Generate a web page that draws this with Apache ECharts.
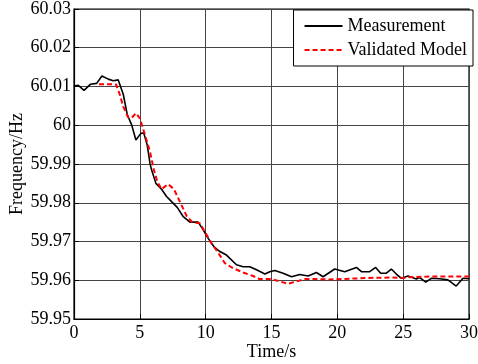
<!DOCTYPE html>
<html><head><meta charset="utf-8">
<script src="https://cdn.jsdelivr.net/npm/echarts@6/dist/echarts.min.js"></script>
<style>html,body{margin:0;padding:0;background:#fff}#c{width:478px;height:364px}</style>
</head><body><div id="c"></div>
<script>
var measT = [0,0.33,0.76,1.26,1.72,2.12,2.6,2.98,3.36,3.74,4.05,4.38,4.7,5.08,5.3,5.56,5.77,5.89,6.22,6.65,7.03,7.41,7.84,8.3,8.8,9.43,9.81,10.19,10.62,11.08,11.58,12.34,12.85,13.35,13.86,14.5,14.87,15.25,15.88,16.52,17.15,17.78,18.41,18.92,19.8,20.56,21.45,21.83,22.46,22.91,23.29,23.7,24.1,24.48,24.86,25.37,26.0,26.26,26.71,27.14,27.77,28.4,29.03,29.54,30];
var measV = [60.0101,60.0103,60.0090,60.0106,60.0108,60.0127,60.0119,60.0115,60.0117,60.0080,60.0027,60.0001,59.9962,59.9979,59.9980,59.9949,59.9902,59.9885,59.9850,59.9835,59.9816,59.9803,59.9788,59.9764,59.9750,59.9750,59.9730,59.9708,59.9687,59.9674,59.9665,59.9640,59.9635,59.9635,59.9627,59.9616,59.9622,59.9625,59.9618,59.9609,59.9615,59.9611,59.9620,59.9609,59.9629,59.9622,59.9633,59.9622,59.9622,59.9633,59.9618,59.9618,59.9629,59.9616,59.9605,59.9611,59.9603,59.9607,59.9595,59.9605,59.9604,59.9601,59.9585,59.9605,59.9604];
var modelT = [1.9,3.0,3.2,3.49,3.74,4.12,4.4,4.7,5.0,5.39,5.77,6.07,6.32,6.65,7.15,7.59,8.04,8.55,9.0,9.56,9.94,10.45,10.95,11.46,12.09,12.85,13.6,14.1,15.0,15.63,16.26,16.9,17.53,18.4,19.4,20.9,22.46,24.0,25.0,25.5,27.5,30];
var modelV = [60.0106,60.0106,60.0105,60.0078,60.0048,60.0020,60.0020,60.0031,60.0018,59.9975,59.9932,59.9885,59.9855,59.9835,59.9848,59.9835,59.9803,59.9766,59.9749,59.9747,59.9725,59.9695,59.9671,59.9644,59.9631,59.9620,59.9611,59.9603,59.9603,59.9597,59.9591,59.9597,59.9603,59.9603,59.9602,59.9604,59.9606,59.9607,59.9606,59.9608,59.9610,59.9610];
var seriesNames = ['Measurement','Validated Model'];
var xTitle = 'Time/s', yTitle = 'Frequency/Hz';

function zip(a,b){return a.map(function(t,i){return [t,b[i]];});}
var font = 'Liberation Serif';
var chart = echarts.init(document.getElementById('c'));
chart.setOption({
  animation:false,
  backgroundColor:'#fff',
  grid:{left:74,right:9,top:9,bottom:45,outerBoundsMode:'none',containLabel:false,show:true,borderColor:'#000',borderWidth:1.2,backgroundColor:'transparent'},
  legend:{
    right:5,top:10,orient:'vertical',
    backgroundColor:'#fff',borderColor:'#000',borderWidth:1,
    padding:[7,6,7,10],itemGap:6,itemWidth:38,itemHeight:12,
    itemStyle:{color:'transparent',borderWidth:0,opacity:0},
    textStyle:{fontFamily:font,fontSize:18,color:'#000'},
    data:seriesNames
  },
  xAxis:{
    type:'value',min:0,max:30,interval:5,
    name:xTitle,nameLocation:'middle',nameGap:24,nameMoveOverlap:false,
    nameTextStyle:{fontFamily:font,fontSize:18,color:'#000'},
    axisLine:{onZero:false,lineStyle:{color:'#000',width:1.2}},
    axisTick:{inside:true,length:5,lineStyle:{color:'#000'}},
    axisLabel:{fontFamily:font,fontSize:18,color:'#000',margin:5},
    splitLine:{show:true,lineStyle:{color:'#444',width:1}}
  },
  yAxis:{
    type:'value',min:59.95,max:60.03,interval:0.01,
    name:yTitle,nameLocation:'middle',nameGap:48,nameMoveOverlap:false,
    nameTextStyle:{fontFamily:font,fontSize:18,color:'#000'},
    axisLine:{onZero:false,lineStyle:{color:'#000',width:1.2}},
    axisTick:{inside:true,length:5,lineStyle:{color:'#000'}},
    axisLabel:{fontFamily:font,fontSize:18,color:'#000',margin:3,
      formatter:function(v){return String(parseFloat((+v).toFixed(2)));}},
    splitLine:{show:true,lineStyle:{color:'#444',width:1}}
  },
  series:[
    {name:seriesNames[0],type:'line',data:zip(measT,measV),symbol:'none',
     lineStyle:{color:'#000',width:1.6},itemStyle:{color:'#000'},z:3},
    {name:seriesNames[1],type:'line',data:zip(modelT,modelV),symbol:'none',
     lineStyle:{color:'#ff0000',width:2,type:[5,3]},itemStyle:{color:'#ff0000'},z:4}
  ]
});
</script></body></html>
